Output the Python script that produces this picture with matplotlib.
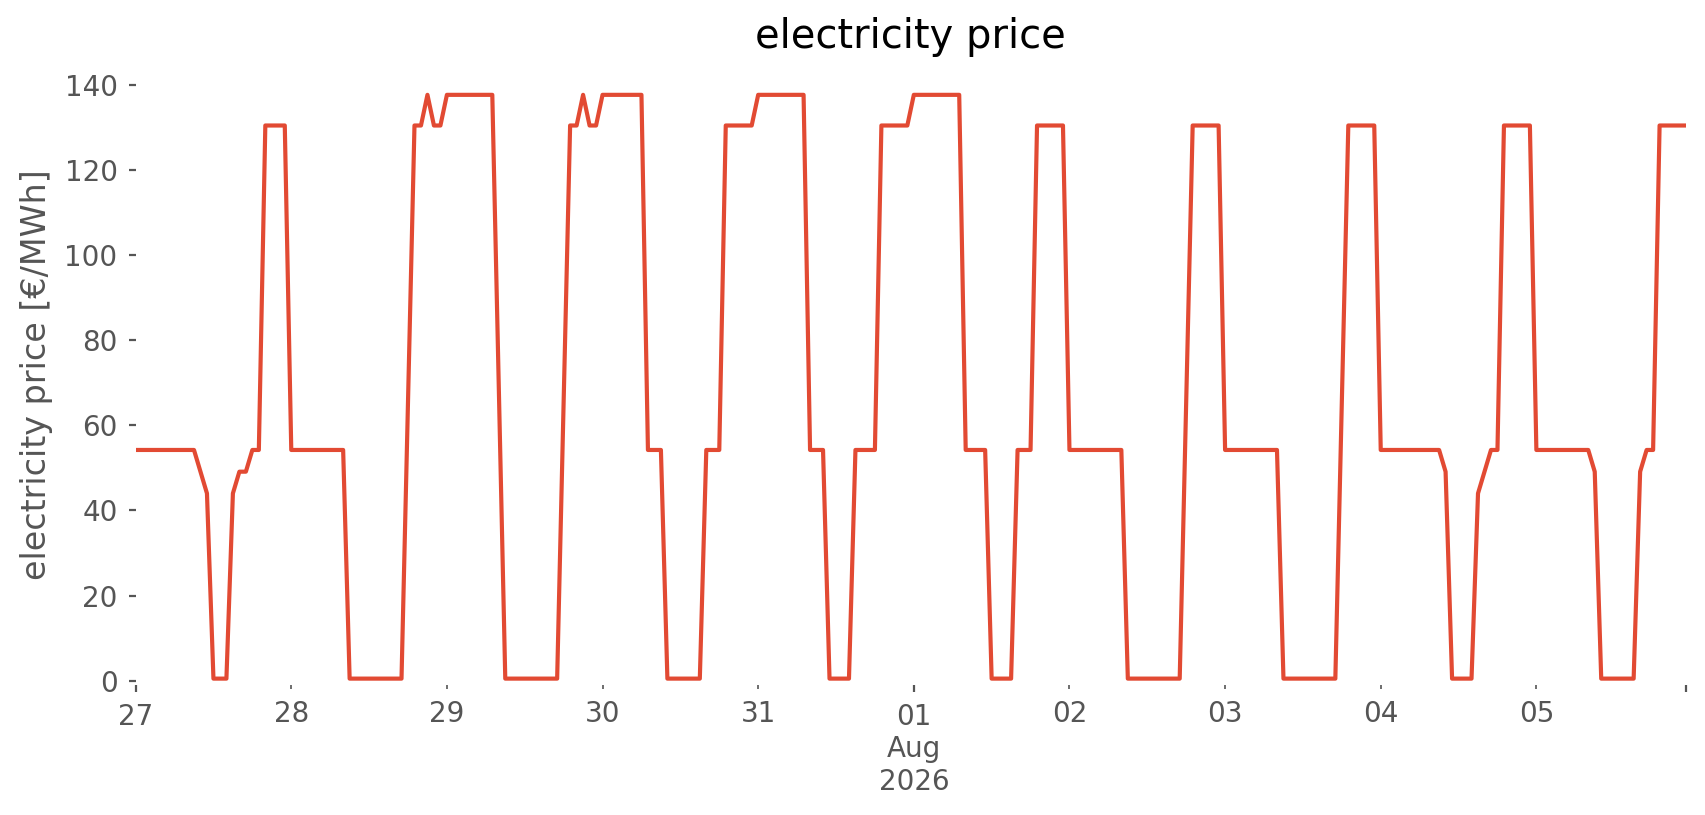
import numpy as np
import pandas as pd
import matplotlib
matplotlib.use("Agg")
import matplotlib.pyplot as plt
import matplotlib.dates as mdates
from matplotlib.ticker import FixedLocator, FixedFormatter

# hourly electricity price [EUR/MWh], one list per day (00:00 .. 23:00)
jul_27 = [54.2] * 10 + [49.1, 44.0] + [0.5] * 3 + [44.0, 49.1, 49.1, 54.2, 54.2] + [130.4] * 4
jul_28 = [54.2] * 9 + [0.5] * 9 + [65.5, 130.4, 130.4, 137.6, 130.4, 130.4]
jul_29 = [137.6] * 8 + [69.0] + [0.5] * 9 + [65.5, 130.4, 130.4, 137.6, 130.4, 130.4]
jul_30 = [137.6] * 7 + [54.2] * 3 + [0.5] * 6 + [54.2] * 3 + [130.4] * 5
jul_31 = [137.6] * 8 + [54.2] * 3 + [0.5] * 4 + [54.2] * 4 + [130.4] * 5
aug_01 = [137.6] * 8 + [54.2] * 4 + [0.5] * 4 + [54.2] * 3 + [130.4] * 5
aug_02 = [54.2] * 9 + [0.5] * 9 + [65.5] + [130.4] * 5
aug_03 = [54.2] * 9 + [0.5] * 9 + [65.5] + [130.4] * 5
aug_04 = [54.2] * 10 + [49.1] + [0.5] * 4 + [44.0, 49.1, 54.2, 54.2] + [130.4] * 5
aug_05 = [54.2] * 9 + [49.1] + [0.5] * 6 + [49.1, 54.2, 54.2] + [130.4] * 5

day_labels = ["27", "28", "29", "30", "31", "01\nAug\n2026", "02", "03", "04", "05"]
major_days = [0, 5]

LINE_COLOR = "#E24A33"
TEXT_GRAY = "#555555"


def build_series():
    prices = jul_27 + jul_28 + jul_29 + jul_30 + jul_31 + aug_01 + aug_02 + aug_03 + aug_04 + aug_05
    index = pd.date_range("2026-07-27 00:00", periods=len(prices), freq="h")
    return pd.Series(prices, index=index)


def plot_price(series, output_file):
    fig = plt.figure(figsize=(8.53, 4.075), dpi=200)
    ax = fig.add_axes([0.0795, 0.1595, 0.9085, 0.7607])

    ax.plot(series.index, series.values, color=LINE_COLOR, linewidth=1.5)

    ax.set_xlim(series.index[0], series.index[-1])
    ax.set_ylim(-1.0, 144.6)
    ax.set_yticks(np.arange(0, 141, 20))

    # day ticks: pandas-style major/minor split
    days = pd.date_range(series.index[0].normalize(), periods=len(day_labels), freq="D")
    day_nums = mdates.date2num(days)
    end_num = mdates.date2num(series.index[-1])

    major_pos = [day_nums[i] for i in major_days] + [end_num]
    major_lab = [day_labels[i] for i in major_days] + [""]
    minor_idx = [i for i in range(len(day_labels)) if i not in major_days]
    minor_pos = [day_nums[i] for i in minor_idx]
    minor_lab = [day_labels[i] for i in minor_idx]

    ax.xaxis.set_major_locator(FixedLocator(major_pos))
    ax.xaxis.set_major_formatter(FixedFormatter(major_lab))
    ax.xaxis.set_minor_locator(FixedLocator(minor_pos))
    ax.xaxis.set_minor_formatter(FixedFormatter(minor_lab))

    ax.tick_params(axis="both", which="both", colors=TEXT_GRAY, labelsize=10, pad=3.9)
    ax.tick_params(axis="both", which="major", length=2.6)
    ax.tick_params(axis="x", which="minor", length=1.6)

    for spine in ax.spines.values():
        spine.set_visible(False)
    ax.set_facecolor("white")
    ax.grid(False)

    ax.set_title("electricity price", fontsize=14.4, color="black")
    ax.set_ylabel("electricity price [€/MWh]", fontsize=12, color=TEXT_GRAY)

    fig.savefig(output_file, dpi=200, facecolor="white")
    plt.close(fig)


def main():
    series = build_series()
    plot_price(series, "out.png")


if __name__ == "__main__":
    main()
